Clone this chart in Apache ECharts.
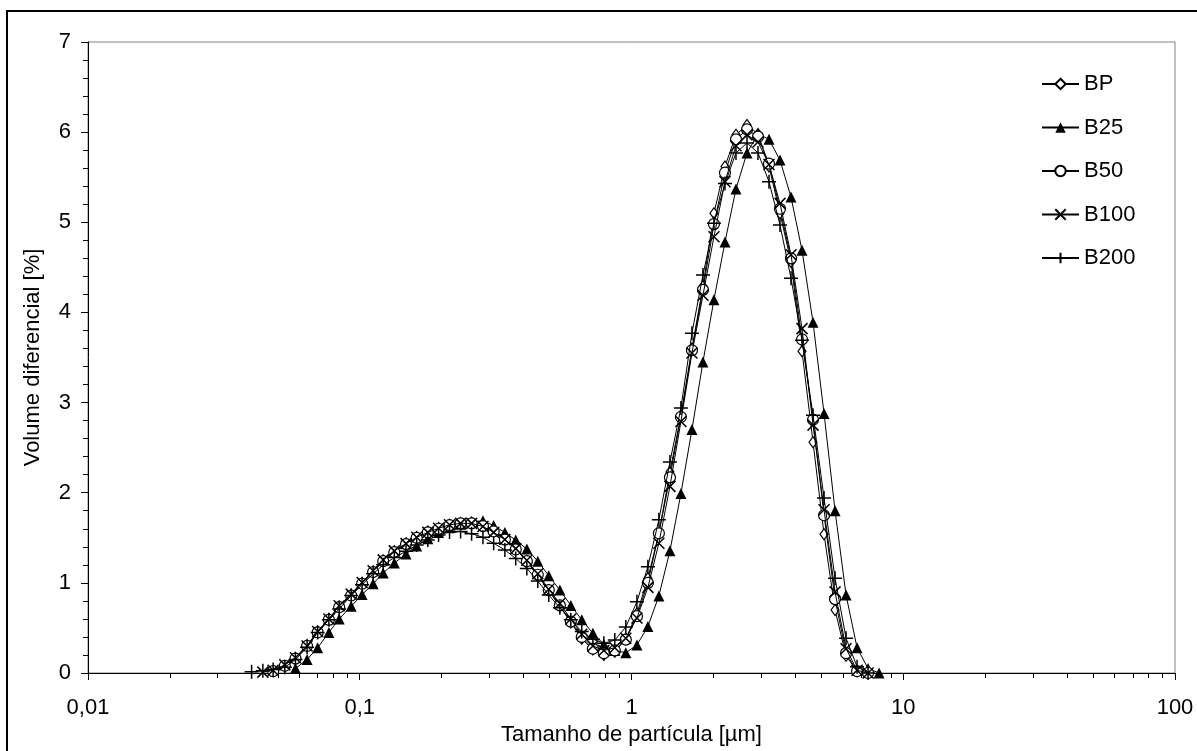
<!DOCTYPE html>
<html>
<head>
<meta charset="utf-8">
<title>Distribuição granulométrica</title>
<script src="https://cdn.jsdelivr.net/npm/echarts@6/dist/echarts.min.js"></script>
<style>
  html, body { margin: 0; padding: 0; background: #fff; }
  #chart { width: 1197px; height: 751px; }
</style>
</head>
<body>
<div id="chart"></div>
<script>
// Particle size channels [µm]
const sizes = [
  0.040, 0.044, 0.048, 0.053, 0.058, 0.064, 0.070, 0.077, 0.084, 0.093,
  0.102, 0.112, 0.122, 0.134, 0.148, 0.162, 0.178, 0.195, 0.214, 0.235,
  0.258, 0.284, 0.311, 0.342, 0.375, 0.412, 0.452, 0.496, 0.545, 0.598,
  0.656, 0.721, 0.791, 0.868, 0.953, 1.047, 1.149, 1.261, 1.385, 1.520,
  1.669, 1.832, 2.011, 2.208, 2.424, 2.661, 2.921, 3.206, 3.519, 3.863,
  4.241, 4.656, 5.111, 5.611, 6.159, 6.761, 7.422, 8.148
];

// Differential volume [%] per channel (null = no reading)
const bp = [
  null, null, 0.02, 0.08, 0.17, 0.31, 0.46, 0.60, 0.74, 0.87,
  1.00, 1.13, 1.25, 1.35, 1.44, 1.51, 1.57, 1.61, 1.645, 1.665,
  1.67, 1.64, 1.58, 1.49, 1.38, 1.24, 1.08, 0.91, 0.74, 0.56,
  0.38, 0.26, 0.20, 0.235, 0.38, 0.66, 1.05, 1.55, 2.23, 2.86,
  3.60, 4.29, 5.10, 5.62, 5.97, 6.08, 5.98, 5.62, 5.10, 4.56,
  3.57, 2.56, 1.54, 0.70, 0.19, 0.02, 0.0, null
];
const b25 = [
  null, null, null, null, 0.05, 0.15, 0.28, 0.45, 0.60, 0.74,
  0.87, 0.99, 1.11, 1.22, 1.32, 1.41, 1.49, 1.56, 1.61, 1.65,
  1.675, 1.69, 1.635, 1.56, 1.475, 1.375, 1.24, 1.08, 0.92, 0.75,
  0.59, 0.44, 0.32, 0.25, 0.225, 0.31, 0.515, 0.855, 1.355, 1.99,
  2.70, 3.45, 4.14, 4.78, 5.37, 5.77, 5.98, 5.92, 5.69, 5.28,
  4.69, 3.89, 2.88, 1.80, 0.865, 0.28, 0.05, 0.0
];
const b50 = [
  null, null, 0.02, 0.08, 0.16, 0.30, 0.45, 0.59, 0.73, 0.86,
  0.99, 1.12, 1.24, 1.34, 1.43, 1.50, 1.56, 1.60, 1.64, 1.66,
  1.66, 1.63, 1.57, 1.48, 1.37, 1.24, 1.09, 0.92, 0.75, 0.57,
  0.40, 0.27, 0.22, 0.25, 0.37, 0.63, 1.00, 1.55, 2.17, 2.84,
  3.58, 4.25, 4.98, 5.55, 5.92, 6.03, 5.95, 5.65, 5.15, 4.60,
  3.70, 2.81, 1.75, 0.82, 0.22, 0.02, 0.0, null
];
const b100 = [
  null, 0.01, 0.03, 0.09, 0.17, 0.30, 0.46, 0.60, 0.745, 0.875,
  1.005, 1.135, 1.255, 1.355, 1.435, 1.505, 1.56, 1.605, 1.645, 1.66,
  1.66, 1.625, 1.56, 1.48, 1.38, 1.25, 1.10, 0.93, 0.77, 0.60,
  0.43, 0.30, 0.25, 0.28, 0.385, 0.61, 0.95, 1.44, 2.07, 2.79,
  3.55, 4.19, 4.84, 5.45, 5.85, 5.97, 5.89, 5.64, 5.21, 4.64,
  3.82, 2.75, 1.81, 0.90, 0.27, 0.03, 0.0, null
];
const b200 = [
  0.015, 0.025, 0.04, 0.063, 0.15, 0.285, 0.45, 0.59, 0.71, 0.86,
  0.98, 1.10, 1.20, 1.28, 1.35, 1.42, 1.475, 1.53, 1.565, 1.57,
  1.545, 1.505, 1.44, 1.365, 1.27, 1.16, 1.02, 0.865, 0.725, 0.59,
  0.46, 0.375, 0.33, 0.365, 0.51, 0.79, 1.18, 1.70, 2.34, 2.94,
  3.77, 4.415, 4.99, 5.43, 5.77, 5.88, 5.77, 5.45, 4.97, 4.38,
  3.69, 2.86, 1.94, 1.05, 0.385, 0.07, 0.0, null
];

const seriesNames = ['BP', 'B25', 'B50', 'B100', 'B200'];

// Axis ticks
const xMajorTicks = [0.01, 0.1, 1, 10, 100];
const xMinorTicks = [];
for (let d = 0; d < 4; d++) {
  for (let k = 2; k <= 9; k++) xMinorTicks.push(+(k * xMajorTicks[d]).toPrecision(3));
}

const FONT = "'Liberation Sans', Arial, sans-serif";
const FS = 22;

function pairs(vals) {
  const out = [];
  vals.forEach((v, i) => { if (v !== null) out.push([sizes[i], v]); });
  return out;
}

const lineBase = {
  type: 'line',
  lineStyle: { color: '#000', width: 1 },
  emphasis: { disabled: true },
  animation: false,
  showAllSymbol: true
};

const markers = [
  { symbol: 'diamond', symbolSize: [8, 11], itemStyle: { color: '#fff', borderColor: '#000', borderWidth: 1.2 } },
  { symbol: 'triangle', symbolSize: [11, 11], itemStyle: { color: '#000', borderColor: '#000', borderWidth: 0 } },
  { symbol: 'circle', symbolSize: 11, itemStyle: { color: '#fff', borderColor: '#000', borderWidth: 1.2 } },
  { symbol: 'path://M0,0L10,10M10,0L0,10', symbolSize: 11, itemStyle: { color: '#000', borderColor: '#000', borderWidth: 1.5 } },
  { symbol: 'path://M5,0L5,10M0,5L10,5', symbolSize: 14, itemStyle: { color: '#000', borderColor: '#000', borderWidth: 1.5 } }
];

const values = [bp, b25, b50, b100, b200];
const series = values.map((vals, i) => Object.assign({}, lineBase, markers[i], {
  name: seriesNames[i],
  data: pairs(vals),
  z: 2 + i
}));

const chart = echarts.init(document.getElementById('chart'), null, { renderer: 'canvas' });
chart.setOption({
  backgroundColor: '#fff',
  textStyle: { fontFamily: FONT, color: '#000' },
  graphic: [{
    type: 'rect',
    shape: { x: 7, y: 11, width: 1260, height: 800 },
    style: { fill: 'none', stroke: '#000', lineWidth: 2 },
    silent: true
  }],
  grid: {
    left: 88, right: 22, top: 42, bottom: 78,
    show: true, borderColor: '#808080', borderWidth: 1, backgroundColor: 'transparent'
  },
  legend: {
    orient: 'vertical',
    left: 1041, top: 73, padding: 0,
    itemWidth: 37, itemHeight: 13, itemGap: 21.5,
    textStyle: { fontFamily: FONT, fontSize: FS, color: '#000', lineHeight: 22 },
    data: seriesNames
  },
  xAxis: [{
    type: 'log', logBase: 10, min: 0.01, max: 100,
    name: 'Tamanho de partícula [µm]', nameLocation: 'middle', nameGap: 51,
    nameTextStyle: { fontFamily: FONT, fontSize: FS, color: '#000' },
    axisLine: { lineStyle: { color: '#000', width: 1 } },
    axisTick: { length: 7, lineStyle: { color: '#000' }, customValues: xMajorTicks },
    axisLabel: {
      fontFamily: FONT, fontSize: FS, color: '#000', margin: 24,
      customValues: xMajorTicks,
      formatter: v => String(v).replace('.', ',')
    },
    splitLine: { show: false }
  }, {
    type: 'log', logBase: 10, min: 0.01, max: 100, position: 'bottom',
    axisLine: { show: false },
    axisTick: { length: 5, lineStyle: { color: '#000' }, customValues: xMinorTicks },
    axisLabel: { show: false },
    splitLine: { show: false }
  }],
  yAxis: {
    type: 'value', min: 0, max: 7, interval: 1,
    name: 'Volume diferencial [%]', nameLocation: 'middle', nameGap: 44, nameRotate: 90,
    nameTextStyle: { fontFamily: FONT, fontSize: FS, color: '#000' },
    axisLine: { show: true, lineStyle: { color: '#000', width: 1 } },
    axisTick: { show: true, length: 7, lineStyle: { color: '#000' } },
    minorTick: { show: true, splitNumber: 5, length: 5, lineStyle: { color: '#000' } },
    axisLabel: { fontFamily: FONT, fontSize: FS, color: '#000', margin: 17 },
    splitLine: { show: false }
  },
  series: series
});
</script>
</body>
</html>
